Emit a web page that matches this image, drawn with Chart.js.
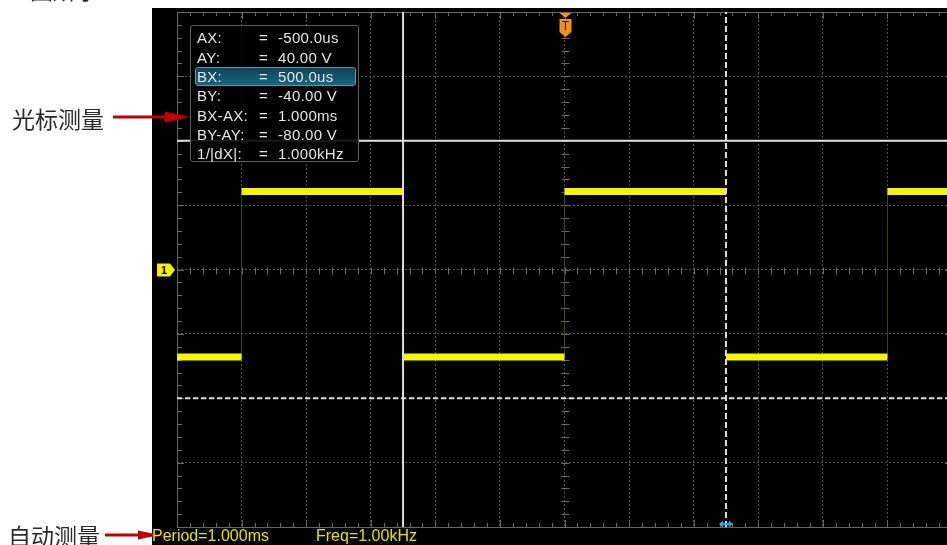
<!DOCTYPE html>
<html lang="zh">
<head>
<meta charset="utf-8">
<script src="https://cdn.jsdelivr.net/npm/chart.js@4.4.1/dist/chart.umd.min.js"></script>
<style>
  html, body { margin: 0; padding: 0; background: #fff; width: 947px; height: 545px; overflow: hidden; position: relative; }
  #screen { position: absolute; left: 152px; top: 8px; width: 800px; height: 537px; background: #000; }
  #wrap { position: absolute; left: 0; top: 0; width: 960px; height: 545px; }
  .note { position: absolute; font-family: "Noto Sans CJK SC", sans-serif; font-size: 23px; line-height: 23px; color: #2a2a2a; white-space: nowrap; }
  #readout { position: absolute; left: 190px; top: 25px; width: 167px; height: 135px; border: 1px solid #5c5c5c; border-radius: 3px; background: rgba(0,0,0,0.88); }
  .row { position: absolute; left: 0; width: 167px; height: 19px; font-family: "Liberation Sans", Arial, sans-serif; font-size: 15px; line-height: 19.33px; color: #e6e6e6; letter-spacing: 0.3px; }
  .row span { position: absolute; top: 0; }
  .hl { position: absolute; left: 4px; top: 40.7px; width: 159px; height: 17px; border: 1px solid #4c9dbb; border-radius: 3px; background: linear-gradient(#0f4357, #1b6580); }
  .meas { position: absolute; top: 528px; font-family: "Liberation Sans", Arial, sans-serif; font-size: 16px; line-height: 16px; color: #e4e400; white-space: nowrap; }
</style>
</head>
<body>
<div id="screen"></div>
<div id="wrap"><canvas id="scope" width="960" height="545"></canvas></div>

<div class="note" style="left:30px; top:-22px;">图所示：</div>
<div class="note" style="left:12px; top:107px;">光标测量</div>
<div class="note" style="left:8px; top:524px;">自动测量</div>
<svg style="position:absolute; left:0; top:0;" width="947" height="545">
  <line x1="113" y1="117" x2="168" y2="117" stroke="#c00000" stroke-width="3"/>
  <polygon points="165,111.5 190,117 165,122.5" fill="#c00000"/>
  <line x1="105" y1="535" x2="140" y2="535" stroke="#c00000" stroke-width="3"/>
  <polygon points="138,530.5 160,535 138,539.5" fill="#c00000"/>
</svg>

<div id="readout"><div class="hl"></div></div>
<div class="meas" style="left:152px;">Period=1.000ms</div>
<div class="meas" style="left:316px;">Freq=1.00kHz</div>

<script>
// axis ranges: 200us/div x 12, 20V/div x 8
const xMin = -1200, xMax = 1200, xStep = 200;
const yMin = -80, yMax = 80, yStep = 20;

// square wave: segment boundaries (us) and level inside each segment (V)
const traceTimes = [-1200, -1000, -500, 0, 500, 1000, 1200];
const traceLevels = [-27.2, 24.2, -27.2, 24.2, -27.2, 24.2];

// cursors
const cursorAX = -500, cursorBX = 500;   // us
const cursorAY = 40, cursorBY = -40;     // V
const triggerTime = 0, channelOffset = 0;

// readout table
const readLabels = ["AX:", "AY:", "BX:", "BY:", "BX-AX:", "BY-AY:", "1/|dX|:"];
const readValues = ["-500.0us", "40.00 V", "500.0us", "-40.00 V", "1.000ms", "-80.00 V", "1.000kHz"];

const box = document.getElementById('readout');
readLabels.forEach((lab, i) => {
  const r = document.createElement('div');
  r.className = 'row';
  r.style.top = (2.4 + i * 19.33) + 'px';
  r.innerHTML = '<span style="left:6px">' + lab + '</span><span style="left:68px">=</span><span style="left:87px">' + readValues[i] + '</span>';
  box.appendChild(r);
});

// flat parts (thick) and the whole stepped trace (thin edges)
const flatPts = [];
for (let i = 0; i < traceLevels.length; i++) {
  flatPts.push({ x: traceTimes[i], y: traceLevels[i] });
  flatPts.push({ x: traceTimes[i + 1], y: traceLevels[i] });
  flatPts.push({ x: traceTimes[i + 1], y: null });
}
const stepPts = traceLevels.map((v, i) => ({ x: traceTimes[i], y: v }));
stepPts.push({ x: traceTimes[traceTimes.length - 1], y: traceLevels[traceLevels.length - 1] });

const frame = {
  id: 'frame',
  beforeDatasetsDraw(chart) {
    const { ctx, chartArea: a, scales: { x, y } } = chart;
    ctx.save();
    ctx.strokeStyle = '#666';
    ctx.lineWidth = 1;
    ctx.strokeRect(Math.round(a.left) + 0.5, Math.round(a.top) + 0.5, Math.round(a.width), Math.round(a.height));
    const x0 = Math.round(x.getPixelForValue(0)) + 0.5;
    const y0 = Math.round(y.getPixelForValue(0)) + 0.5;
    ctx.strokeStyle = '#6a6a6a';
    ctx.beginPath();
    for (let v = xMin; v <= xMax; v += xStep / 5) {
      const px = Math.round(x.getPixelForValue(v)) + 0.5;
      const major = (v - xMin) % xStep === 0;
      const len = major ? 7 : 4;
      ctx.moveTo(px, a.top); ctx.lineTo(px, a.top + len);
      ctx.moveTo(px, a.bottom); ctx.lineTo(px, a.bottom - len);
      ctx.moveTo(px, y0 - 3); ctx.lineTo(px, y0 + 4);
    }
    for (let v = yMin; v <= yMax; v += yStep / 5) {
      const py = Math.round(y.getPixelForValue(v)) + 0.5;
      const major = (v - yMin) % yStep === 0;
      const len = major ? 7 : 5;
      ctx.moveTo(a.left, py); ctx.lineTo(a.left + len, py);
      ctx.moveTo(a.right, py); ctx.lineTo(a.right - len, py);
      ctx.moveTo(x0 - 4, py); ctx.lineTo(x0 + 4, py);
    }
    ctx.stroke();
    ctx.restore();
  },
  afterDatasetsDraw(chart) {
    const { ctx, chartArea: a, scales: { x, y } } = chart;
    ctx.save();
    // channel 1 marker
    const cy = Math.round(y.getPixelForValue(channelOffset));
    const l = a.left - 20;
    ctx.fillStyle = '#f2f200';
    ctx.beginPath();
    ctx.moveTo(l, cy - 6.5); ctx.lineTo(l + 13, cy - 6.5); ctx.lineTo(l + 18, cy);
    ctx.lineTo(l + 13, cy + 6.5); ctx.lineTo(l, cy + 6.5); ctx.closePath();
    ctx.fill();
    ctx.fillStyle = '#000';
    ctx.font = 'bold 11px "Liberation Sans", Arial, sans-serif';
    ctx.textAlign = 'center'; ctx.textBaseline = 'middle';
    ctx.fillText('1', l + 7, cy + 1);
    // trigger marker
    const tx = Math.round(x.getPixelForValue(triggerTime)) + 0.5;
    const t = a.top + 1;
    ctx.fillStyle = '#f39019';
    ctx.beginPath();
    ctx.moveTo(tx - 6, t); ctx.lineTo(tx + 6, t); ctx.lineTo(tx, t + 5); ctx.closePath();
    ctx.fill();
    ctx.beginPath();
    ctx.moveTo(tx - 6, t + 6); ctx.lineTo(tx + 6, t + 6); ctx.lineTo(tx + 6, t + 19);
    ctx.lineTo(tx, t + 24); ctx.lineTo(tx - 6, t + 19); ctx.closePath();
    ctx.fill();
    ctx.fillStyle = '#3b1c00';
    ctx.font = '12px "Liberation Sans", Arial, sans-serif';
    ctx.fillText('T', tx, t + 14);
    // BX position arrow
    const bx = Math.round(x.getPixelForValue(cursorBX));
    const by = a.bottom - 3;
    ctx.strokeStyle = '#1cb2f0'; ctx.fillStyle = '#1cb2f0'; ctx.lineWidth = 2;
    ctx.beginPath(); ctx.moveTo(bx - 5, by); ctx.lineTo(bx + 5, by); ctx.stroke();
    ctx.beginPath(); ctx.moveTo(bx - 7, by); ctx.lineTo(bx - 3, by - 3.5); ctx.lineTo(bx - 3, by + 3.5); ctx.closePath(); ctx.fill();
    ctx.beginPath(); ctx.moveTo(bx + 7, by); ctx.lineTo(bx + 3, by - 3.5); ctx.lineTo(bx + 3, by + 3.5); ctx.closePath(); ctx.fill();
    ctx.restore();
  }
};

const cursorLine = (pts, dash) => ({
  data: pts, borderColor: '#dedede', borderWidth: 2, borderDash: dash, pointRadius: 0
});

new Chart(document.getElementById('scope').getContext('2d'), {
  type: 'line',
  data: {
    datasets: [
      cursorLine([{ x: cursorAX, y: yMin }, { x: cursorAX, y: yMax }], []),
      cursorLine([{ x: cursorBX, y: yMin }, { x: cursorBX, y: yMax }], [6, 3]),
      cursorLine([{ x: xMin, y: cursorAY }, { x: xMax, y: cursorAY }], []),
      cursorLine([{ x: xMin, y: cursorBY }, { x: xMax, y: cursorBY }], [5, 3]),
      { data: flatPts, borderColor: '#f5f500', borderWidth: 7, borderCapStyle: 'butt', pointRadius: 0, spanGaps: false },
      { data: stepPts, borderColor: '#45450c', borderWidth: 1, stepped: true, pointRadius: 0 }
    ]
  },
  plugins: [frame],
  options: {
    responsive: false,
    animation: false,
    layout: { padding: { left: 177, top: 12, right: 8, bottom: 18 } },
    plugins: { legend: { display: false }, tooltip: { enabled: false } },
    scales: {
      x: {
        type: 'linear', min: xMin, max: xMax,
        ticks: { display: false, stepSize: xStep },
        grid: { color: '#505050', drawTicks: false },
        border: { display: false, dash: [2, 2] }
      },
      y: {
        type: 'linear', min: yMin, max: yMax,
        ticks: { display: false, stepSize: yStep },
        grid: { color: '#505050', drawTicks: false },
        border: { display: false, dash: [2, 2] }
      }
    }
  }
});
</script>
</body>
</html>
